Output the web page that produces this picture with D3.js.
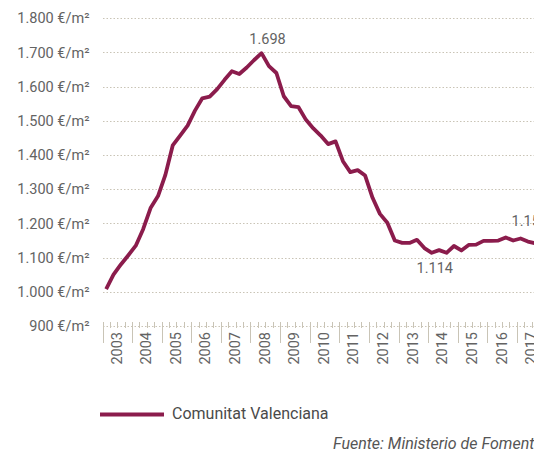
<!DOCTYPE html>
<html>
<head>
<meta charset="utf-8">
<script src="https://cdn.jsdelivr.net/npm/d3@7"></script>
<style>
  html, body { margin: 0; padding: 0; background: #fff; }
  svg { display: block; }
  text { font-family: Roboto, "Noto Sans", sans-serif; }
</style>
</head>
<body>
<svg id="chart" width="534" height="453"></svg>
<script>
// ---- data (quarterly, €/m², Comunitat Valenciana) ----
const startYear = 2003;
const seriesName = "Comunitat Valenciana";
const values = [
  1008, 1050, 1080, 1107, 1135, 1183, 1245, 1280,   // 2003-2004
  1342, 1428, 1457, 1486, 1530, 1566, 1571, 1593,   // 2005-2006
  1620, 1645, 1637, 1656, 1678, 1698, 1660, 1640,   // 2007-2008
  1572, 1543, 1540, 1503, 1478, 1457, 1432, 1440,   // 2009-2010
  1382, 1350, 1356, 1340, 1275, 1228, 1202, 1150,   // 2011-2012
  1143, 1143, 1152, 1128, 1114, 1122, 1114, 1134,   // 2013-2014
  1121, 1137, 1138, 1149, 1149, 1150, 1159, 1150,   // 2015-2016
  1156, 1147, 1142                                   // 2017
];
const yTicks = [900, 1000, 1100, 1200, 1300, 1400, 1500, 1600, 1700, 1800];
const yearLabels = ["2003","2004","2005","2006","2007","2008","2009","2010","2011","2012","2013","2014","2015","2016","2017"];
const annotations = [
  { index: 21, text: "1.698", dx: 6,  dy: -9,    anchor: "middle" },
  { index: 44, text: "1.114", dx: 3,  dy: 20,    anchor: "middle" },
  { index: 56, text: "1.156", dx: -9, dy: -12.5, anchor: "start" }
];
const sourceText = "Fuente: Ministerio de Fomento";

// ---- layout ----
const svg = d3.select("#chart");
const W = 534;
const lineColor = "#8b1c4c";
const gridColor = "#c9c4b6";
const textColor = "#636363";
const axisFont = "14.5px";

const x = d3.scaleTime()
  .domain([new Date(2003, 0, 1), new Date(2018, 0, 1)])
  .range([102.5, 102.5 + 15 * 29.6]);
const y = d3.scaleLinear().domain([900, 1800]).range([326, 18.3]);

const loc = d3.formatLocale({ decimal: ",", thousands: ".", grouping: [3], currency: ["", "€"] });
const fmt = loc.format(",");

const dateOf = i => new Date(startYear, i * 3, 1);
const midOf = i => new Date((dateOf(i).getTime() + dateOf(i + 1).getTime()) / 2);

// gridlines
svg.append("g").selectAll("line").data(yTicks).join("line")
  .attr("x1", 103).attr("x2", W)
  .attr("y1", d => Math.round(y(d)) + 0.5).attr("y2", d => Math.round(y(d)) + 0.5)
  .attr("stroke", gridColor).attr("stroke-width", 1.2)
  .attr("stroke-dasharray", "1.5,2");

// y labels
const yAxis = d3.axisLeft(y).tickValues(yTicks).tickSize(0).tickPadding(0)
  .tickFormat(d => fmt(d) + " €/m²");
const gy = svg.append("g").attr("transform", "translate(89.5,0)").call(yAxis);
gy.select(".domain").remove();
gy.selectAll("text").attr("fill", textColor).style("font-size", axisFont)
  .style("font-family", "Roboto, 'Noto Sans', sans-serif");

// x axis: quarter minor ticks, year major ticks, rotated year labels
const quarterDates = d3.range(0, 61).map(dateOf);
svg.append("g").selectAll("line").data(quarterDates).join("line")
  .attr("x1", d => Math.round(x(d)) + 0.5).attr("x2", d => Math.round(x(d)) + 0.5)
  .attr("y1", 322).attr("y2", 328)
  .attr("stroke", gridColor).attr("stroke-width", 1);
const yearDates = d3.range(0, 16).map(k => new Date(startYear + k, 0, 1));
svg.append("g").selectAll("line").data(yearDates).join("line")
  .attr("x1", d => Math.round(x(d)) + 0.5).attr("x2", d => Math.round(x(d)) + 0.5)
  .attr("y1", 322).attr("y2", 343)
  .attr("stroke", gridColor).attr("stroke-width", 1);
svg.append("g").selectAll("text").data(yearLabels).join("text")
  .attr("transform", d => {
    const cx = x(new Date(+d, 6, 1));
    return `translate(${cx},332) rotate(-90)`;
  })
  .attr("text-anchor", "end").attr("dominant-baseline", "central")
  .attr("fill", textColor).style("font-size", axisFont)
  .text(d => d);

// line
const line = d3.line()
  .x((d, i) => x(midOf(i)))
  .y(d => y(d));
svg.append("path").datum(values)
  .attr("d", line)
  .attr("fill", "none")
  .attr("stroke", lineColor).attr("stroke-width", 3.8)
  .attr("stroke-linejoin", "round").attr("stroke-linecap", "butt");

// annotations
svg.append("g").selectAll("text").data(annotations).join("text")
  .attr("x", d => x(midOf(d.index)) + d.dx)
  .attr("y", d => y(values[d.index]) + d.dy)
  .attr("text-anchor", d => d.anchor)
  .attr("fill", textColor).style("font-size", axisFont)
  .text(d => d.text);

// legend
svg.append("line").attr("x1", 100).attr("x2", 164).attr("y1", 414.5).attr("y2", 414.5)
  .attr("stroke", lineColor).attr("stroke-width", 4);
svg.append("text").attr("x", 172).attr("y", 418.5)
  .attr("fill", "#4a4a4a").style("font-size", "16px").text(seriesName);

// source
svg.append("text").attr("x", 333).attr("y", 449)
  .attr("fill", "#555").style("font-size", "16px").style("font-style", "italic")
  .text(sourceText);
</script>
</body>
</html>
